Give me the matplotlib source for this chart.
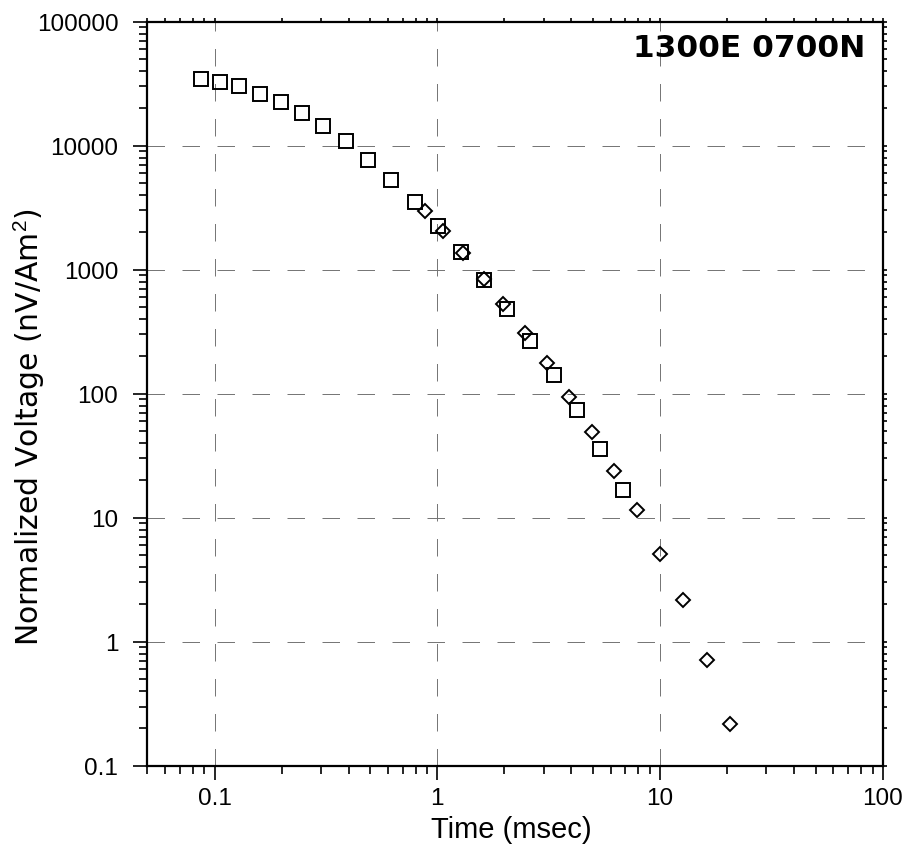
import numpy as np
import matplotlib
matplotlib.use("Agg")
import matplotlib.pyplot as plt
from matplotlib import ticker

# Station label and axis text
station = "1300E 0700N"
x_label = "Time (msec)"
y_label = "Normalized Voltage (nV/Am$^2$)"

# Axis ranges and tick labels
x_limits = (0.05, 100)
y_limits = (0.1, 100000)
x_ticks = [0.1, 1, 10, 100]
y_ticks = [0.1, 1, 10, 100, 1000, 10000, 100000]

# Square series
sq_time = [0.087, 0.106, 0.129, 0.160, 0.198, 0.246, 0.307, 0.391, 0.489, 0.622,
           0.791, 1.007, 1.281, 1.620, 2.054, 2.621, 3.337, 4.245, 5.40, 6.85]
sq_volt = [34600, 32500, 30100, 26200, 22300, 18300, 14400, 10850, 7710, 5330,
           3530, 2250, 1400, 826, 480, 267, 142, 73.8, 35.8, 16.8]

# Diamond series
di_time = [0.877, 1.063, 1.304, 1.620, 1.983, 2.481, 3.113, 3.921, 4.930, 6.200,
           7.862, 10.0, 12.73, 16.2, 20.6]
di_volt = [2970, 2050, 1350, 835, 526, 311, 176, 94.8, 48.9, 23.7,
           11.45, 5.12, 2.16, 0.711, 0.217]

plt.rcParams['font.family'] = ['Liberation Sans', 'DejaVu Sans']
plt.rcParams['mathtext.fontset'] = 'custom'
plt.rcParams['mathtext.rm'] = 'Liberation Sans'

fig = plt.figure(figsize=(9.07, 8.45), dpi=100)
ax = fig.add_axes([0.1626, 0.0927, 0.8106, 0.8805])

# Data
ax.plot(sq_time, sq_volt, ls='none', marker='s', ms=10, mfc='none',
        mec='black', mew=1.4, zorder=3)
ax.plot(di_time, di_volt, ls='none', marker='D', ms=7.3, mfc='none',
        mec='black', mew=1.4, zorder=3)

# Scales
ax.set_xscale('log')
ax.set_yscale('log')
ax.set_xlim(*x_limits)
ax.set_ylim(*y_limits)
ax.set_xticks(x_ticks)
ax.set_yticks(y_ticks)
fmt = ticker.FuncFormatter(lambda v, p: f"{v:g}")
ax.xaxis.set_major_formatter(fmt)
ax.yaxis.set_major_formatter(fmt)
ax.xaxis.set_minor_formatter(ticker.NullFormatter())
ax.yaxis.set_minor_formatter(ticker.NullFormatter())

# Ticks and spines
ax.xaxis.set_ticks_position('both')
ax.yaxis.set_ticks_position('both')
ax.tick_params(which='both', direction='out', width=1.2, labelsize=17.5)
ax.tick_params(which='major', length=10)
ax.tick_params(which='minor', length=5.5)
ax.tick_params(axis='x', which='major', pad=5)
ax.tick_params(axis='y', which='major', pad=11)
# short marks on the top and right edges
for t in (ax.xaxis.get_major_ticks() + ax.xaxis.get_minor_ticks()
          + ax.yaxis.get_major_ticks() + ax.yaxis.get_minor_ticks()):
    t.tick2line.set_markersize(3)
for s in ax.spines.values():
    s.set_linewidth(1.6)

# Grid
ax.grid(True, which='major', color='0.45', lw=0.7, ls=(0, (18, 18)))

# Labels
ax.text(0.976, 0.9543, station, transform=ax.transAxes, ha='right',
        va='baseline', fontsize=22.5, fontweight='bold', family='DejaVu Sans')
fig.text(0.5634, 0.0083, x_label, ha='center', va='baseline', fontsize=21)
fig.text(0.032, 0.4947, y_label, rotation=90, ha='center', va='center',
         fontsize=21.5, family='DejaVu Sans')

fig.savefig("out.png", dpi=100)
